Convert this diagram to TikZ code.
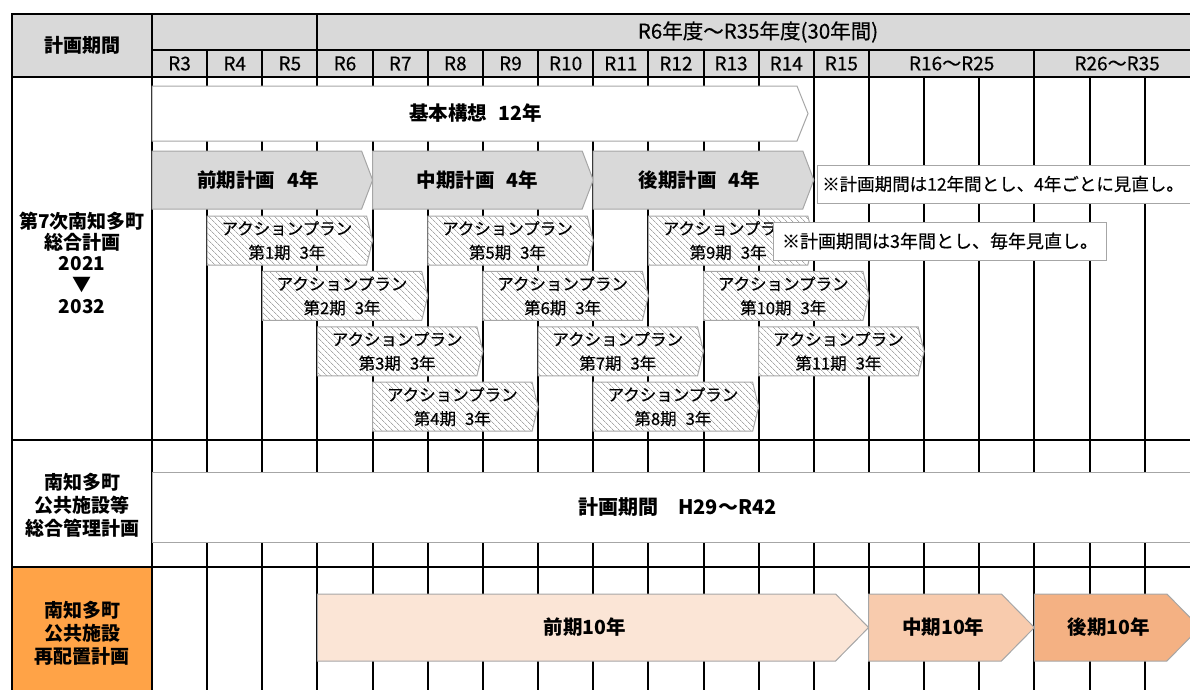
\documentclass[tikz,border=0pt]{standalone}
\usepackage{fontspec}
\setmainfont{Noto Sans CJK JP}
\newfontfamily\medfont{Noto Sans CJK JP}[FakeBold=0.4]
\usetikzlibrary{patterns.meta}

\definecolor{hdgray}{HTML}{D9D9D9}
\definecolor{edgegray}{HTML}{A6A6A6}
\definecolor{hatchgray}{HTML}{A8A8A8}
\definecolor{lblorange}{HTML}{FFA347}
\definecolor{termA}{HTML}{FBE5D6}
\definecolor{termB}{HTML}{F8CBAD}
\definecolor{termC}{HTML}{F4B183}

\tikzset{
    % lines of the table
    gridln/.style={line width=2pt, black, line cap=rect},
    % outline of every bar
    barln/.style={draw=edgegray, line width=1pt},
    plain/.style={barln, fill=white},
    plan/.style={barln, fill=hdgray},
    apbar/.style={barln, preaction={fill=white},
        pattern={Lines[angle=-45, distance=4pt, line width=.8pt]},
        pattern color=hatchgray},
    term/.style={barln, fill=#1},
    % notes on the right
    note/.style={rectangle, draw=edgegray, line width=1pt, fill=white,
        minimum height=38pt, inner xsep=6pt, font=\medfont\fontsize{18}{20}\selectfont},
    notetxt/.style={inner sep=0pt, anchor=west, font=\medfont\fontsize{17.5}{20}\selectfont},
    % texts
    lbl/.style={align=center, font=\bfseries\fontsize{19}{21}\selectfont},
    yr/.style={font=\medfont\fontsize{19}{20}\selectfont},
    bartxt/.style={font=\bfseries\fontsize{19.5}{21}\selectfont},
    aptxt/.style={align=center, font=\medfont\fontsize{16.5}{24}\selectfont}
}

% bar with pointed right end: [style]{x left}{x tip}{y top}{y bottom}{tip length}
\newcommand{\arrbar}[6][]{%
  \path[#1] (#2,#4) -- ({#3-#6},#4) -- (#3,{(#4+#5)/2}) -- ({#3-#6},#5) -- (#2,#5) -- cycle;}

\begin{document}
\begin{tikzpicture}[x=1pt, y=-1pt]
\useasboundingbox (0,0) rectangle (1190,689);
\clip (0,0) rectangle (1190,689);

% backgrounds
\fill[hdgray] (12,14) rectangle (1200,77);
\fill[lblorange] (12,567) rectangle (152,700);

% table lines
\foreach \y in {14,77,440,567} \draw[gridln] (12,\y) -- (1200,\y);
\draw[gridln] (152,50) -- (1200,50);
\foreach \x in {12,152,317.45} \draw[gridln] (\x,14) -- (\x,700);
\foreach \i in {1,2,4,5,...,13,16}
  \draw[gridln] ({152+55.15*\i},50) -- ({152+55.15*\i},700);
\foreach \i in {14,15,17,18}
  \draw[gridln] ({152+55.15*\i},77) -- ({152+55.15*\i},700);

% header
\node[lbl] (hdr) at (82,45.5) {計画期間};
\node[yr, font=\medfont\fontsize{20.5}{22}\selectfont] (span) at (758,32) {R6年度～R35年度(30年間)};
\foreach \i in {0,...,12}{
  \pgfmathtruncatemacro\n{\i+3}
  \node[yr] (r\n) at ({152+55.15*(\i+0.5)},63.5) {R\n};
}
\node[yr] (r16) at ({152+55.15*14.5},63.5) {R16～R25};
\node[yr] (r26) at ({152+55.15*17.5},63.5) {R26～R35};

% row labels
\node[lbl] (sogo) at (82,263) {第7次南知多町\\総合計画\\2021\\▼\\[1pt]2032};
\node[lbl, font=\bfseries\fontsize{19}{23}\selectfont] (kanri) at (82,505) {南知多町\\公共施設等\\総合管理計画};
\node[lbl, font=\bfseries\fontsize{19}{23}\selectfont] (saihai) at (82,633) {南知多町\\公共施設\\再配置計画};

% general plan
\arrbar[plain]{152}{808}{86}{141}{11}
\node[bartxt] (kihon) at (475.5,113.5) {基本構想\hspace{.6em}12年};
\arrbar[plan]{152}{372.6}{151}{209}{11}
\node[bartxt] (zenki) at (258,180) {前期計画\hspace{.6em}4年};
\arrbar[plan]{372.6}{593.2}{151}{209}{11}
\node[bartxt] (chuki) at (477.4,180) {中期計画\hspace{.6em}4年};
\arrbar[plan]{593.2}{813.8}{151}{209}{11}
\node[bartxt] (koki) at (699.5,180) {後期計画\hspace{.6em}4年};

% action plans
\foreach \k in {1,...,11}{
  \pgfmathsetmacro\xa{152+55.15*\k}
  \pgfmathsetmacro\xb{\xa+3*55.15}
  \pgfmathsetmacro\ya{216+55.4*mod(\k-1,4)}
  \pgfmathsetmacro\yb{\ya+49}
  \arrbar[apbar]{\xa}{\xb}{\ya}{\yb}{6}
  \node[aptxt] (ap\k) at ({(\xa+\xb-6)/2},{(\ya+\yb)/2}) {アクションプラン\\第\k{}期\hspace{.55em}3年};
}

% notes
\path[plain] (817,165) rectangle (1200,203);
\node[notetxt] (note12) at (822,184) {※計画期間は12年間とし、4年ごとに見直し。};
\node[note, anchor=west, minimum width=333pt] (note3) at (773,241) {※計画期間は3年間とし、毎年見直し。};

% facility management plan
\path[plain] (152,472) rectangle (1200,542);
\node[bartxt, font=\bfseries\fontsize{20}{21}\selectfont] (kikan) at (677.5,506.5) {計画期間\hspace{1em}H29～R42};

% relocation plan
\arrbar[term=termA]{317.45}{868.6}{594}{661}{33}
\node[bartxt] (zen10) at (584.8,627.5) {前期10年};
\arrbar[term=termB]{868.6}{1034.4}{594}{661}{33}
\node[bartxt] (chu10) at (943.3,627.5) {中期10年};
\arrbar[term=termC]{1034.4}{1199.9}{594}{661}{33}
\node[bartxt] (ko10) at (1108.9,627.5) {後期10年};

\end{tikzpicture}
\end{document}
